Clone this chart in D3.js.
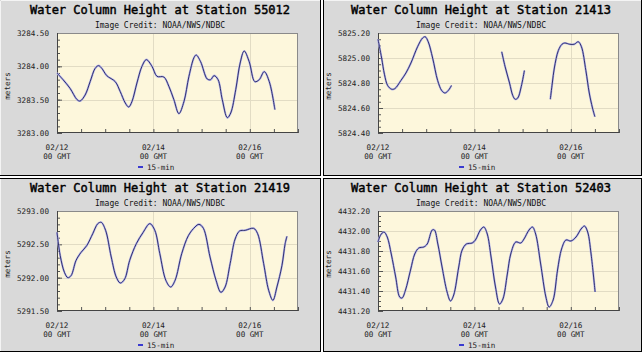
<!DOCTYPE html>
<html><head><meta charset="utf-8">
<script src="https://cdn.jsdelivr.net/npm/d3@7"></script>
<style>body{margin:0;background:#fff}svg{display:block}</style>
</head><body><svg id="c" width="643" height="355"></svg>
<script>
const stations = ["55012","21413","21419","52403"];
const xTickDays = [0,2,4];
const xTickLabels = ["02/12","02/14","02/16"];
const yLabel = "meters";
const legendLabel = "15-min";
const credit = "Image Credit: NOAA/NWS/NDBC";

const yDomain55012 = [3283.0, 3284.5], yStep55012 = 0.5, yMinor55012 = 0.1;
const yDomain21413 = [5824.4, 5825.2], yStep21413 = 0.2, yMinor21413 = 0.05;
const yDomain21419 = [5291.5, 5293.0], yStep21419 = 0.5, yMinor21419 = 0.1;
const yDomain52403 = [4431.2, 4432.2], yStep52403 = 0.2, yMinor52403 = 0.05;

const hours55012 = [0,3,6.5,10,11.5,14,16.5,19,20.7,22.3,24.8,29,31.5,34,35.7,37.3,39.8,42.3,44.5,47.3,49.8,53.2,55.7,58.2,60.7,63.2,65.7,68.2,69.3,71.5,74.8,76.5,78.2,80.2,82.3,84.8,86.5,89,91.2,93.2,95.7,98.5,100.7,103.2,105.7,108.5];
const values55012 = [3283.90,3283.80,3283.67,3283.50,3283.48,3283.57,3283.77,3283.97,3284.01,3283.97,3283.86,3283.77,3283.62,3283.45,3283.39,3283.47,3283.75,3284.00,3284.10,3284.00,3283.85,3283.84,3283.70,3283.50,3283.29,3283.47,3283.85,3284.13,3284.17,3284.07,3283.81,3283.80,3283.86,3283.80,3283.50,3283.23,3283.30,3283.65,3284.05,3284.23,3284.07,3283.77,3283.80,3283.92,3283.77,3283.35];

const hours21413 = [0,1.8,3.2,4.8,6.8,8.4,11.4,13.9,16.4,19.7,22.2,23.5,25,27.2,29.7,31.7,33.3,35,36.6,50,61.6,63.3,65.5,67.1,68.3,69.6,71.3,72.9,80,85.8,86.8,87.8,89.8,91.6,93,95.5,97.7,99.7,101.3,103.5,105.2,106.8,108];
const values21413 = [5825.15,5825.00,5824.87,5824.78,5824.75,5824.755,5824.82,5824.88,5824.96,5825.09,5825.16,5825.17,5825.13,5825.00,5824.82,5824.74,5824.72,5824.74,5824.78,null,5825.05,5824.93,5824.80,5824.70,5824.67,5824.68,5824.77,5824.90,null,5824.67,5824.80,5824.92,5825.06,5825.11,5825.12,5825.11,5825.11,5825.13,5825.09,5824.90,5824.72,5824.60,5824.53];

const hours21419 = [0,1.6,3.7,5.4,7,9.5,12,14.8,17.8,20.3,22,24.2,27,29.5,31.5,33.7,36.2,39.5,42.9,46.2,48.7,51.2,54.2,56.6,58.8,62.1,65.4,68.7,70.7,72.9,76.2,79.2,81.6,83.7,86.2,88.7,90.9,93.7,97.9,99.9,102.9,105.4,107.5,109.5,112,113.6,114.5];
const values21419 = [5292.68,5292.33,5292.08,5292.00,5292.03,5292.26,5292.38,5292.48,5292.66,5292.81,5292.83,5292.71,5292.31,5292.01,5291.92,5291.98,5292.26,5292.51,5292.68,5292.81,5292.71,5292.36,5291.96,5291.86,5291.96,5292.36,5292.63,5292.76,5292.80,5292.74,5292.31,5291.96,5291.78,5291.86,5292.21,5292.58,5292.70,5292.71,5292.74,5292.66,5292.21,5291.81,5291.66,5291.86,5292.18,5292.51,5292.62];

const hours52403 = [0,1.3,3,4.6,6.6,8.8,10.8,12,13.7,16.2,18.3,20.3,22.8,24.5,27,28.1,29.8,31.9,34.4,36.1,37.7,40.2,41.9,44,46.9,48.5,51,52.7,54.4,56.3,58.5,60.5,62.2,64.4,66.1,68.6,71.1,72.7,75.2,76.9,78.5,81,83.6,85.2,87.2,89.4,91.4,93.6,96.1,98.6,101.1,102.8,104.4,106.1,108.1];
const values52403 = [4431.89,4431.96,4431.99,4431.94,4431.77,4431.54,4431.34,4431.33,4431.41,4431.61,4431.77,4431.83,4431.84,4431.87,4432.01,4432.01,4431.87,4431.64,4431.39,4431.30,4431.36,4431.64,4431.81,4431.87,4431.88,4431.91,4432.01,4432.04,4431.97,4431.74,4431.44,4431.27,4431.32,4431.57,4431.77,4431.89,4431.88,4431.92,4432.01,4432.04,4431.97,4431.67,4431.34,4431.24,4431.31,4431.61,4431.82,4431.91,4431.90,4431.94,4432.02,4432.05,4431.99,4431.77,4431.39];

const panels = [
  {id: stations[0], hours: hours55012, values: values55012, dom: yDomain55012, step: yStep55012, minor: yMinor55012},
  {id: stations[1], hours: hours21413, values: values21413, dom: yDomain21413, step: yStep21413, minor: yMinor21413},
  {id: stations[2], hours: hours21419, values: values21419, dom: yDomain21419, step: yStep21419, minor: yMinor21419},
  {id: stations[3], hours: hours52403, values: values52403, dom: yDomain52403, step: yStep52403, minor: yMinor52403}
];

const svg = d3.select("#c");
const MONO = "'DejaVu Sans Mono', 'Liberation Mono', monospace";
const t0 = Date.UTC(2021, 1, 12);
const toDate = h => new Date(t0 + h * 3600e3);

svg.append("rect").attr("width",643).attr("height",355).attr("fill","#ffffff");

const cellX = [0, 323], cellY = [0, 178], cellW = [320, 318], cellH = [175, 173];
const origX = [0, 321], origY = [0, 178];

panels.forEach((p, i) => {
  const col = i % 2, row = Math.floor(i / 2);
  const cx = cellX[col], cy = cellY[row];
  svg.append("rect").attr("x", cx).attr("y", cy).attr("width", cellW[col]).attr("height", cellH[row]).attr("fill", "#d9d9d9");
  svg.append("line").attr("x1", cx + cellW[col] + 0.5).attr("x2", cx + cellW[col] + 0.5).attr("y1", cy).attr("y2", cy + cellH[row] + 1).attr("stroke", "#000");
  svg.append("line").attr("y1", cy + cellH[row] + 0.5).attr("y2", cy + cellH[row] + 0.5).attr("x1", cx).attr("x2", cx + cellW[col] + 1).attr("stroke", "#000");
  if (col === 1) svg.append("line").attr("x1", cx + 0.5).attr("x2", cx + 0.5).attr("y1", cy).attr("y2", cy + cellH[row]).attr("stroke", "#000");
  if (row === 1) svg.append("line").attr("y1", cy + 0.5).attr("y2", cy + 0.5).attr("x1", cx).attr("x2", cx + cellW[col]).attr("stroke", "#000");
  if (col === 0) svg.append("line").attr("x1", cx + 0.5).attr("x2", cx + 0.5).attr("y1", cy + 1).attr("y2", cy + cellH[row]).attr("stroke", "#f4f4f4");
  if (row === 0) svg.append("line").attr("y1", cy + 0.5).attr("y2", cy + 0.5).attr("x1", cx + 1).attr("x2", cx + cellW[col]).attr("stroke", "#f4f4f4");

  const ox = origX[col], oy = origY[row];
  const g = svg.append("g").attr("transform", `translate(${ox},${oy})`);
  const L = 57, T = 33, W = 241, H = 100;

  g.append("text").attr("x", 160).attr("y", 14).attr("text-anchor", "middle")
    .attr("font-family", MONO).attr("font-weight", "normal").attr("font-size", 12).attr("fill", "#000")
    .attr("stroke", "#000").attr("stroke-width", 0.45)
    .text("Water Column Height at Station " + p.id);
  g.append("text").attr("x", 160).attr("y", 28).attr("text-anchor", "middle")
    .attr("font-family", MONO).attr("font-size", 8).attr("fill", "#111").text(credit);

  const x = d3.scaleUtc().domain([toDate(0), toDate(120)]).range([L, L + W]);
  const y = d3.scaleLinear().domain(p.dom).range([T + H, T]);

  g.append("rect").attr("x", L).attr("y", T).attr("width", W).attr("height", H).attr("fill", "#fdf7dc");

  const nMaj = Math.round((p.dom[1] - p.dom[0]) / p.step);
  const majors = d3.range(nMaj + 1).map(k => +(p.dom[0] + k * p.step).toFixed(4));
  const nMin = Math.round((p.dom[1] - p.dom[0]) / p.minor);
  const minors = d3.range(nMin + 1).map(k => +(p.dom[0] + k * p.minor).toFixed(4));

  g.append("g").selectAll("line").data(majors.slice(1, -1)).join("line")
    .attr("x1", L).attr("x2", L + W).attr("y1", d => Math.round(y(d)) + 0.5).attr("y2", d => Math.round(y(d)) + 0.5)
    .attr("stroke", "#e2dcc4");
  g.append("g").selectAll("line").data(xTickDays.slice(1)).join("line")
    .attr("y1", T).attr("y2", T + H).attr("x1", d => Math.round(x(toDate(d * 24))) + 0.5).attr("x2", d => Math.round(x(toDate(d * 24))) + 0.5)
    .attr("stroke", "#e2dcc4");

  const ya = g.append("g").attr("transform", `translate(${L},0)`)
    .call(d3.axisLeft(y).tickValues(majors).tickSize(-5).tickPadding(8).tickFormat(d3.format(".2f")));
  ya.select(".domain").remove();
  ya.selectAll("line").attr("stroke", "#555");
  ya.selectAll("text").attr("font-family", MONO).attr("font-size", 7.6).attr("fill", "#222");
  const ym = g.append("g").attr("transform", `translate(${L},0)`)
    .call(d3.axisLeft(y).tickValues(minors).tickSize(-3).tickFormat(""));
  ym.select(".domain").remove();
  ym.selectAll("line").attr("stroke", "#555");

  const xa = g.append("g").attr("transform", `translate(0,${T + H})`)
    .call(d3.axisBottom(x).tickValues(d3.range(0, 121, 12).map(toDate)).tickSize(-4).tickFormat(""));
  xa.select(".domain").remove();
  xa.selectAll("line").attr("stroke", "#555");

  const xl = g.append("g");
  xTickDays.forEach((d, k) => {
    const t = xl.append("text").attr("x", x(toDate(d * 24))).attr("text-anchor", "middle")
      .attr("font-family", MONO).attr("font-size", 7.6).attr("fill", "#222");
    t.append("tspan").attr("x", x(toDate(d * 24))).attr("y", 150).text(xTickLabels[k]);
    t.append("tspan").attr("x", x(toDate(d * 24))).attr("y", 159).text("00 GMT");
  });

  g.append("rect").attr("x", L + 0.5).attr("y", T + 0.5).attr("width", W - 1).attr("height", H - 1)
    .attr("fill", "none").attr("stroke", "#8a8a8a");
  g.append("line").attr("x1", L + 0.5).attr("x2", L + 0.5).attr("y1", T).attr("y2", T + H).attr("stroke", "#444");
  g.append("line").attr("x1", L).attr("x2", L + W).attr("y1", T + H - 0.5).attr("y2", T + H - 0.5).attr("stroke", "#444");

  g.append("text").attr("transform", "translate(10,86) rotate(-90)").attr("text-anchor", "middle")
    .attr("font-family", MONO).attr("font-size", 7.6).attr("fill", "#222").text(yLabel);

  const data = p.hours.map((h, k) => ({t: toDate(h), v: p.values[k]}));
  const line = d3.line().defined(d => d.v != null).x(d => x(d.t)).y(d => y(d.v)).curve(d3.curveCatmullRom.alpha(0.5));
  g.append("path").datum(data).attr("d", line).attr("fill", "none").attr("stroke", "#b4b4ea").attr("stroke-width", 2.1).attr("stroke-linejoin", "round");
  g.append("path").datum(data).attr("d", line).attr("fill", "none").attr("stroke", "#2a2a66").attr("stroke-width", 0.95).attr("stroke-linejoin", "round");

  g.append("rect").attr("x", 138).attr("y", 166).attr("width", 5).attr("height", 2).attr("fill", "#3a3ad0");
  g.append("text").attr("x", 147).attr("y", 170).attr("font-family", MONO).attr("font-size", 7.6).attr("fill", "#222").text(legendLabel);
});
</script></body></html>
